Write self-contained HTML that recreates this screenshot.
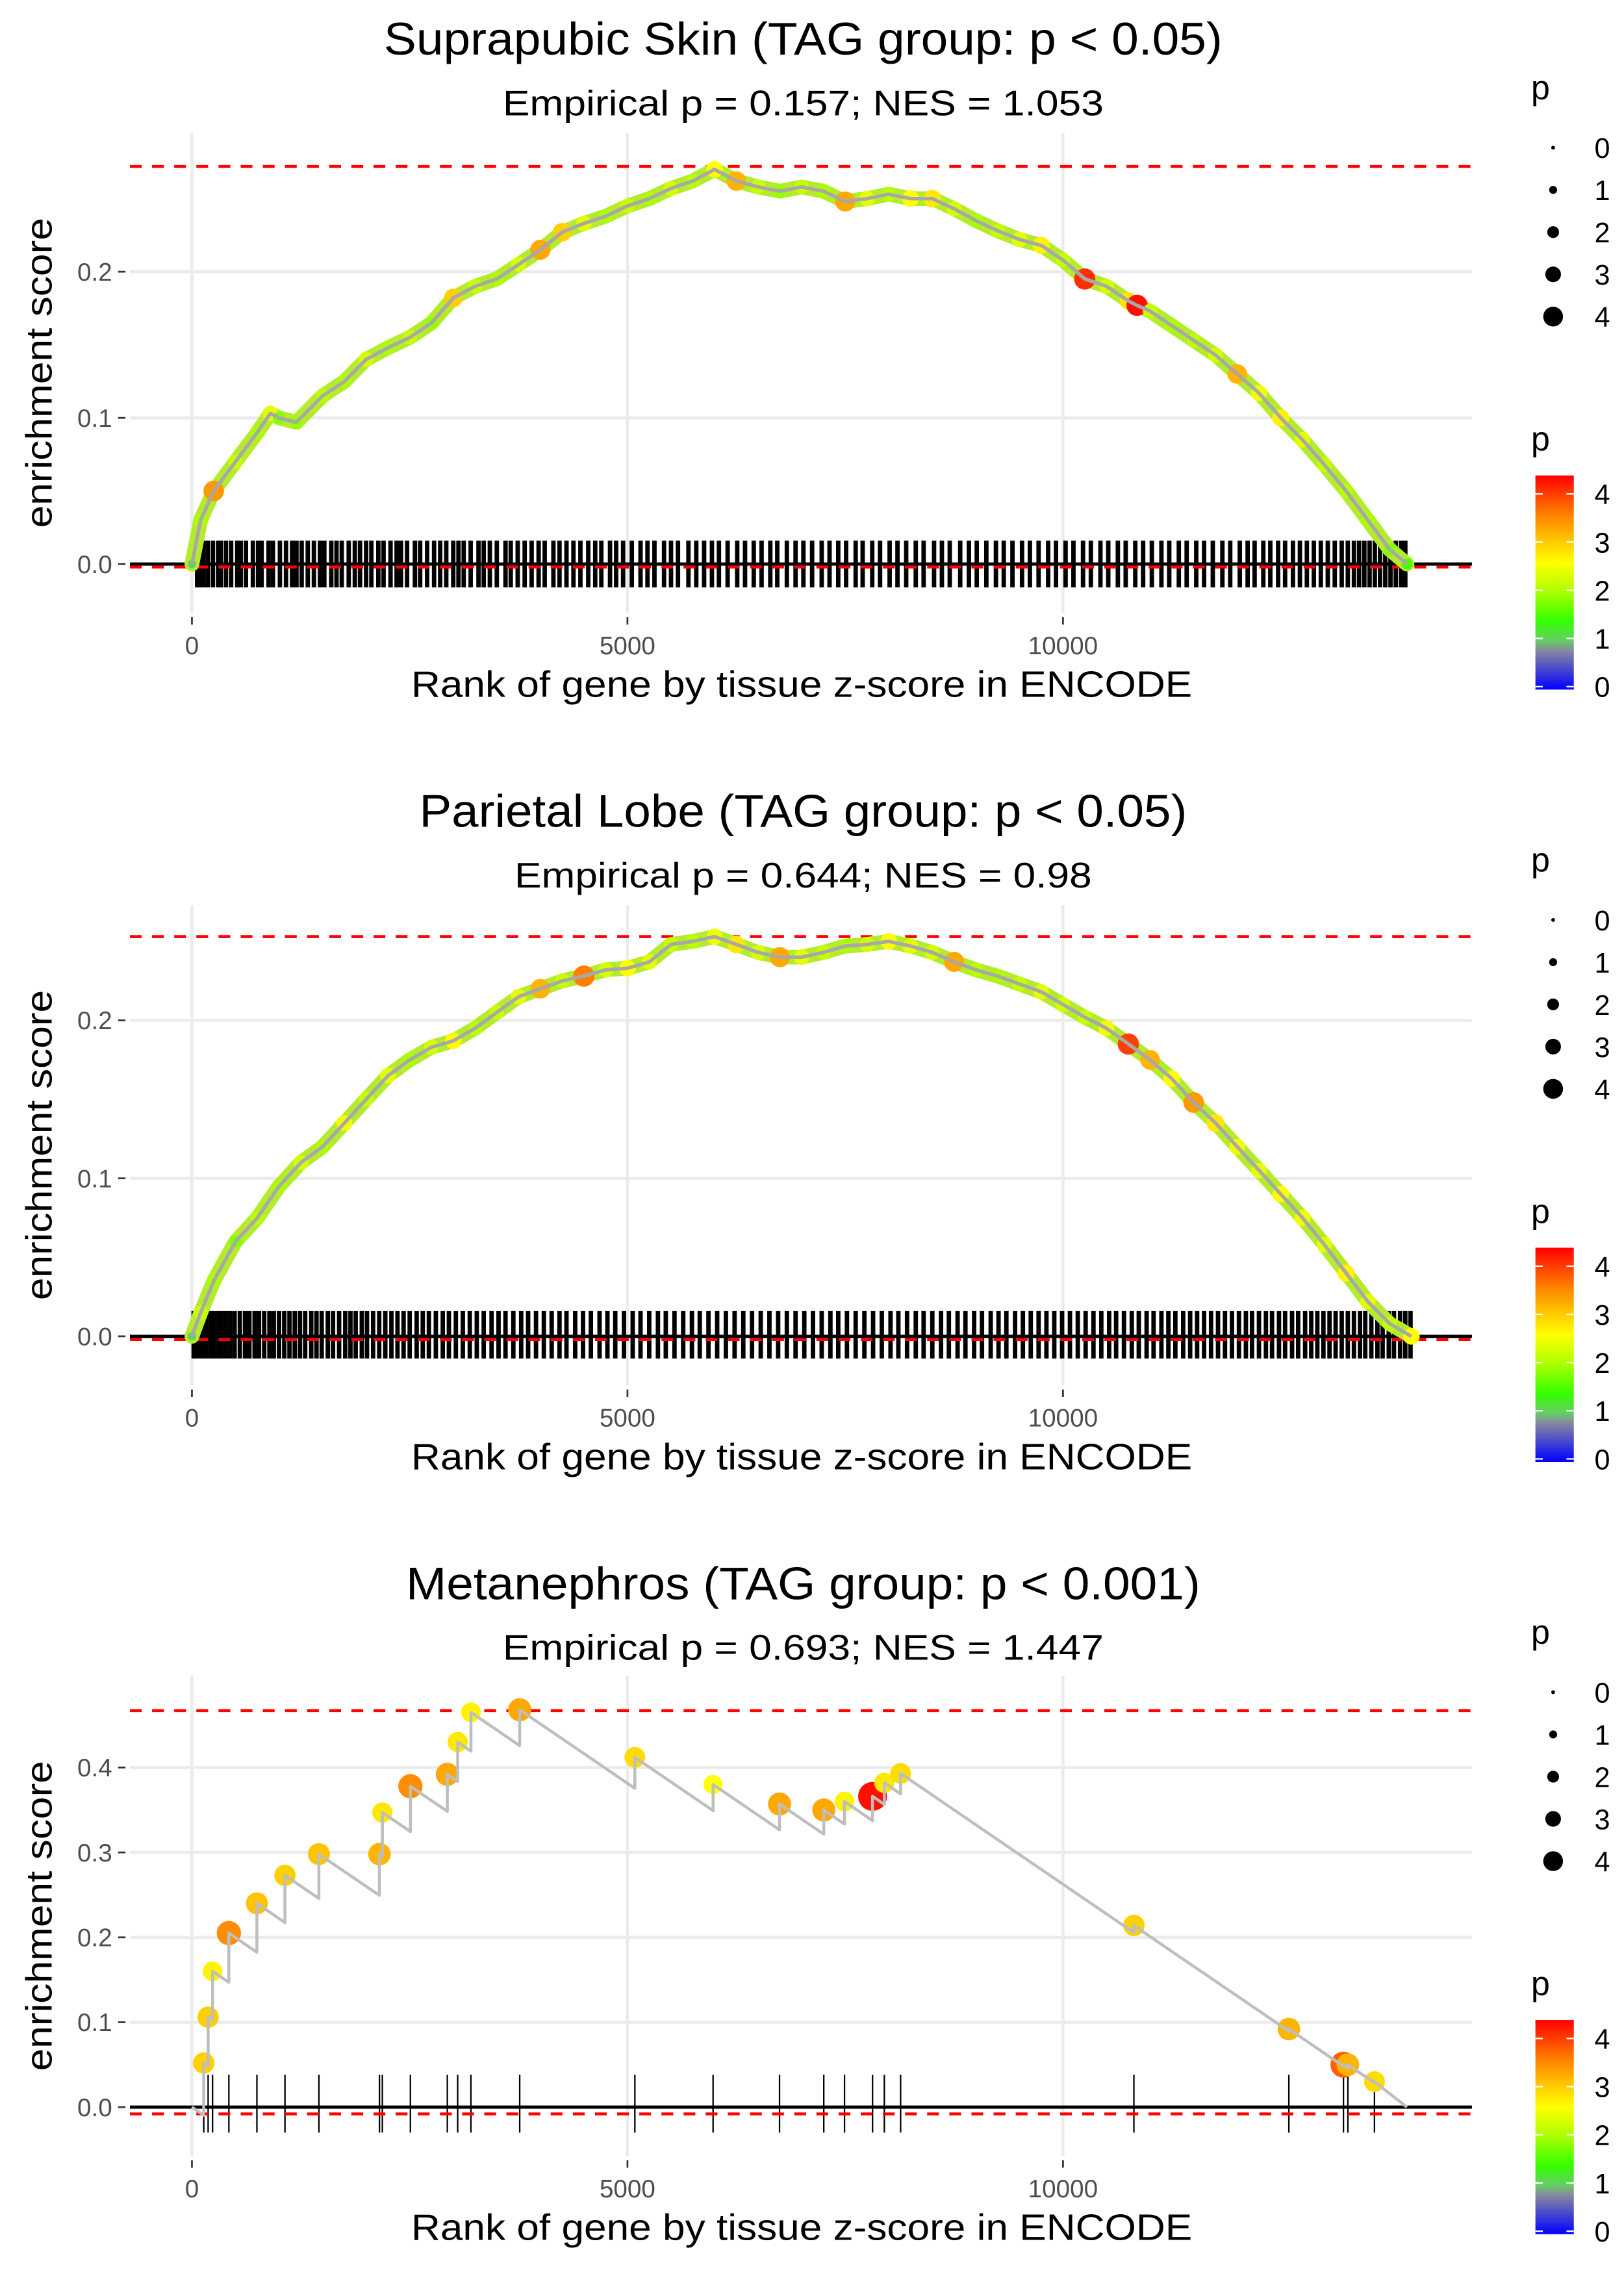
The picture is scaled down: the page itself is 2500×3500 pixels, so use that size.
<!DOCTYPE html>
<html><head><meta charset="utf-8"><style>
html,body{margin:0;padding:0;background:#fff;}
svg{display:block;font-family:"Liberation Sans",Arial,sans-serif;}
</style></head><body>
<svg id="chart" width="2500" height="3500" viewBox="0 0 1100 1540" preserveAspectRatio="none" xmlns="http://www.w3.org/2000/svg"></svg>
<script>
// ---------- data ----------
const p1Ranks = [0,100,250,500,750,900,1000,1200,1500,1750,2000,2250,2500,2750,3000,3250,3500,3750,4000,4250,4500,4750,5000,5250,5500,5750,6000,6250,6500,6750,7000,7250,7500,7750,8000,8250,8500,8750,9000,9250,9500,9750,10000,10250,10500,10750,10850,11000,11250,11500,11750,12000,12250,12500,12750,13000,13250,13500,13750,13950];
const p1ES = [0,0.03,0.05,0.07,0.09,0.103,0.10,0.097,0.115,0.125,0.14,0.148,0.155,0.165,0.182,0.19,0.195,0.205,0.215,0.227,0.233,0.238,0.245,0.25,0.257,0.262,0.27,0.262,0.258,0.255,0.258,0.255,0.248,0.25,0.253,0.25,0.25,0.243,0.235,0.228,0.222,0.218,0.208,0.195,0.19,0.18,0.177,0.173,0.163,0.153,0.143,0.13,0.117,0.1,0.085,0.068,0.05,0.03,0.01,0];
const p1P = [1,2,3.4,2.2,2,2.4,1.8,1.9,2.1,2,2.3,2,2.2,1.9,3,2.2,2,2.3,3.3,3,2.4,2,2.2,2,2.3,2.1,2.6,3.2,2.2,1.9,2.2,2,3.3,2.4,2.1,2.6,2.8,2.3,2,2.2,2.4,2.7,2.2,4.1,2.3,2.8,4.3,2.2,2,2.1,2.3,3.2,2.5,2.7,2.4,2.2,2.1,2,1.8,1.5];
const p1Hits = [60,90,130,180,240,300,330,390,450,520,560,620,700,760,800,880,930,1010,1080,1150,1200,1260,1330,1400,1470,1520,1600,1660,1720,1800,1870,1930,2000,2060,2140,2200,2280,2350,2400,2470,2560,2620,2700,2780,2850,2920,3000,3060,3120,3200,3290,3350,3420,3500,3600,3660,3740,3820,3900,3980,4050,4150,4220,4300,4380,4460,4550,4630,4700,4800,4870,4950,5050,5150,5230,5310,5420,5500,5580,5700,5790,5880,5970,6050,6150,6260,6350,6450,6540,6640,6720,6830,6930,7020,7120,7230,7320,7420,7510,7620,7700,7810,7900,8010,8100,8200,8310,8400,8520,8610,8700,8820,8920,9010,9120,9230,9320,9420,9530,9620,9720,9830,9920,10030,10120,10230,10320,10430,10520,10630,10720,10830,10920,11020,11130,11220,11330,11420,11530,11620,11720,11830,11920,12030,12120,12200,12300,12380,12470,12550,12640,12720,12800,12880,12960,13040,13120,13200,13270,13340,13400,13460,13520,13580,13640,13700,13760,13820,13880,13930];

const p2Ranks = [0,100,250,500,750,1000,1250,1500,1750,2000,2250,2500,2750,3000,3250,3500,3750,4000,4250,4500,4750,5000,5250,5500,5750,6000,6250,6500,6750,7000,7250,7500,7750,8000,8250,8500,8750,9000,9250,9500,9750,10000,10250,10500,10750,11000,11250,11500,11750,12000,12250,12500,12750,13000,13250,13500,13750,14000];
const p2ES = [0,0.015,0.035,0.06,0.075,0.095,0.11,0.12,0.135,0.15,0.165,0.175,0.183,0.187,0.195,0.205,0.215,0.22,0.225,0.228,0.232,0.233,0.237,0.248,0.25,0.253,0.248,0.243,0.24,0.24,0.243,0.247,0.248,0.25,0.247,0.243,0.237,0.232,0.228,0.223,0.218,0.21,0.202,0.195,0.185,0.175,0.163,0.148,0.135,0.12,0.105,0.09,0.075,0.058,0.04,0.022,0.008,0];
const p2P = [1,2.2,2,1.8,2.1,2,2.3,2,2.5,2.2,2.4,2,2.3,2.6,2.1,2.2,2.4,3.2,2.2,3.6,2.3,2.6,2.4,2.2,2.1,2.5,2.8,2.3,3.3,2.4,2.2,2,2.3,2.6,2.4,2.3,3.3,2.1,2,2.2,2.4,2.3,2.2,2.5,4,3.2,2.6,3.4,2.8,2.5,2.4,2.6,2.5,2.4,2.7,2.4,2.2,2.6];
const p2Hits = [20,50,80,120,160,210,250,300,340,390,440,490,550,610,660,720,770,830,890,940,1000,1060,1120,1180,1240,1300,1370,1430,1490,1560,1620,1690,1760,1820,1880,1950,2010,2080,2150,2220,2290,2360,2430,2500,2580,2650,2720,2800,2880,2950,3030,3110,3190,3270,3350,3440,3520,3600,3690,3780,3860,3950,4040,4130,4220,4300,4400,4490,4580,4680,4770,4860,4960,5060,5150,5250,5350,5440,5540,5640,5740,5830,5930,6030,6130,6230,6330,6430,6530,6630,6730,6830,6930,7030,7130,7230,7330,7420,7520,7620,7720,7820,7920,8020,8110,8210,8310,8400,8500,8600,8690,8790,8880,8980,9070,9170,9260,9350,9450,9540,9630,9720,9810,9900,9990,10080,10170,10260,10350,10440,10530,10610,10700,10790,10870,10960,11040,11130,11210,11290,11380,11460,11540,11620,11700,11780,11860,11940,12020,12100,12170,12250,12330,12400,12480,12550,12630,12700,12780,12850,12920,12990,13060,13130,13200,13270,13340,13410,13470,13540,13610,13670,13740,13800,13870,13930,13990];

const p3Ranks = [136,186,237,424,746,1068,1458,2153,2186,2508,2932,3051,3203,3763,5085,5983,6746,7254,7492,7814,7949,8136,10814,12593,13220,13271,13576];
const p3ES = [0.052,0.106,0.16,0.205,0.24,0.273,0.298,0.298,0.347,0.378,0.392,0.43,0.465,0.468,0.412,0.38,0.357,0.35,0.36,0.366,0.382,0.393,0.214,0.092,0.05,0.05,0.03];
const p3P = [3,3,2.7,3.5,3.1,3,3.1,3.2,2.8,3.5,3.3,2.8,2.7,3.3,2.9,2.6,3.3,3.3,2.7,4.3,2.8,2.9,3,3.2,3.8,3.2,2.9];
const p3MissStep = 0.00007;
const p3End = 13950;

const titles = ["Suprapubic Skin (TAG group: p < 0.05)","Parietal Lobe (TAG group: p < 0.05)","Metanephros (TAG group: p < 0.001)"];
const subtitles = ["Empirical p = 0.157; NES = 1.053","Empirical p = 0.644; NES = 0.98","Empirical p = 0.693; NES = 1.447"];
const titleWidths = [568,520,538];
const subtitleWidths = [407,391,407];
const xTicks = [0,5000,10000];
const yTicks1 = [0,0.1,0.2];
const yTicks2 = [0,0.1,0.2];
const yTicks3 = [0,0.1,0.2,0.3,0.4];
const sizeLegend = [0,1,2,3,4];
const colorLegend = [0,1,2,3,4];

// ---------- helpers ----------
const NS="http://www.w3.org/2000/svg";
const svg=document.getElementById('chart');
function mk(tag,attrs,parent){const e=document.createElementNS(NS,tag);for(const k in attrs)e.setAttribute(k,attrs[k]);(parent||svg).appendChild(e);return e;}
const stops=[[0,[0,0,255]],[0.8,[136,136,160]],[1.0,[102,204,102]],[1.4,[51,255,0]],[2.0,[170,255,0]],[2.6,[255,255,0]],[3.0,[255,208,0]],[3.6,[255,128,0]],[4.4,[255,0,0]]];
function col(p){if(p<=0)return 'rgb(0,0,255)';for(let i=1;i<stops.length;i++){if(p<=stops[i][0]){const a=stops[i-1],b=stops[i];const t=(p-a[0])/(b[0]-a[0]);const c=a[1].map((v,j)=>Math.round(v+(b[1][j]-v)*t));return `rgb(${c})`;}}return 'rgb(255,0,0)';}
function rad(p){return 1.2+1.7*p;}
const X0=130, XK=0.059;
function xs(r){return X0+r*XK;}

const panels=[
 {off:0,y0:382,k:990,ticks:yTicks1,redTop:0.272,redBot:-0.002,top:90,bot:415,rugTop:0.016,rugBot:-0.016},
 {off:523,y0:905,k:1070,ticks:yTicks2,redTop:0.253,redBot:-0.002,top:613,bot:938,rugTop:0.016,rugBot:-0.014},
 {off:1046,y0:1427,k:575,ticks:yTicks3,redTop:0.467,redBot:-0.008,top:1135,bot:1460,rugTop:0.038,rugBot:-0.03}
];

panels.forEach((P,pi)=>{
 const g=mk('g',{});
 
 
 const ys=v=>P.y0-v*P.k;
 let t=mk('text',{x:544,y:P.off+37,'text-anchor':'middle','font-size':31,fill:'#000',textLength:titleWidths[pi],lengthAdjust:'spacingAndGlyphs'},g);t.textContent=titles[pi];
 
 t=mk('text',{x:544,y:P.off+78,'text-anchor':'middle','font-size':24,fill:'#000',textLength:subtitleWidths[pi],lengthAdjust:'spacingAndGlyphs'},g);t.textContent=subtitles[pi];
 
 // grid
 P.ticks.forEach(v=>{const l=mk('line',{x1:88,x2:997,y1:ys(v),y2:ys(v),stroke:'#ebebeb','stroke-width':2},g);
  
  const tl=mk('text',{x:76,y:ys(v)+6,'text-anchor':'end','font-size':17,fill:'#4d4d4d'},g);tl.textContent=v.toFixed(1);
  
  mk('line',{x1:80,x2:85,y1:ys(v),y2:ys(v),stroke:'#333','stroke-width':1.2},g);});
 xTicks.forEach(v=>{const l=mk('line',{x1:xs(v),x2:xs(v),y1:P.top,y2:P.bot,stroke:'#ebebeb','stroke-width':2},g);
  
  mk('line',{x1:xs(v),x2:xs(v),y1:P.bot+3,y2:P.bot+8,stroke:'#333','stroke-width':1.2},g);
  const tl=mk('text',{x:xs(v),y:P.bot+28,'text-anchor':'middle','font-size':17,fill:'#4d4d4d'},g);tl.textContent=String(v);
  });
 t=mk('text',{x:543,y:P.bot+57,'text-anchor':'middle','font-size':25,fill:'#000',textLength:529,lengthAdjust:'spacingAndGlyphs'},g);t.textContent='Rank of gene by tissue z-score in ENCODE';
 
 const yc=(P.top+P.bot)/2;
 t=mk('text',{x:0,y:0,transform:`translate(35,${yc}) rotate(-90)`,'text-anchor':'middle','font-size':25,fill:'#000',textLength:210,lengthAdjust:'spacingAndGlyphs'},g);t.textContent='enrichment score';
 

 // data
 let ranks,es,ps,hits;
 if(pi===0){ranks=p1Ranks;es=p1ES;ps=p1P;hits=p1Hits;}
 else if(pi===1){ranks=p2Ranks;es=p2ES;ps=p2P;hits=p2Hits;}
 else {ranks=p3Ranks;es=p3ES;ps=p3P;hits=p3Ranks;}
 // rug
 hits.forEach(r=>{const l=mk('line',{x1:xs(r),x2:xs(r),y1:ys(P.rugTop),y2:ys(P.rugBot),stroke:'#000','stroke-width':pi===2?1:3},g);
  });
 // zero line & red lines
 let l=mk('line',{x1:88,x2:997,y1:ys(0),y2:ys(0),stroke:'#000','stroke-width':2.2},g);
 
 [P.redTop,P.redBot].forEach(v=>{const r=mk('line',{x1:88,x2:997,y1:ys(v),y2:ys(v),stroke:'#ff0000','stroke-width':2,'stroke-dasharray':'8,7'},g);
  });

 if(pi<2){
  const d=ranks.map((r,i)=>(i?'L':'M')+xs(r).toFixed(1)+','+ys(es[i]).toFixed(1)).join(' ');
  const band=mk('path',{d:d,fill:'none',stroke:'#b4ec2c','stroke-width':10,'stroke-linejoin':'round','stroke-linecap':'round'},g);
  
  ranks.forEach((r,i)=>{const c=mk('circle',{cx:xs(r),cy:ys(es[i]),r:Math.min(rad(ps[i]),7.2),fill:col(ps[i])},g);
   });
  const ln=mk('path',{d:d,fill:'none',stroke:'#a8a8a8','stroke-width':2.4,'stroke-linejoin':'round'},g);
  
 } else {
  ranks.forEach((r,i)=>{const c=mk('circle',{cx:xs(r),cy:ys(es[i]),r:rad(ps[i])*1.15,fill:col(ps[i])},g);
   });
  let d='M'+xs(0)+','+ys(0);let prevR=0,prevE=0;
  ranks.forEach((r,i)=>{const dip=prevE-p3MissStep*(r-prevR);d+=` L${xs(r).toFixed(1)},${ys(dip).toFixed(1)} L${xs(r).toFixed(1)},${ys(es[i]).toFixed(1)}`;prevR=r;prevE=es[i];});
  d+=` L${xs(p3End).toFixed(1)},${ys(0).toFixed(1)}`;
  const ln=mk('path',{d:d,fill:'none',stroke:'#bebebe','stroke-width':2,'stroke-linejoin':'round'},g);
  
 }

 // legends
 const lg=mk('g',{},g);
 
 t=mk('text',{x:1037,y:P.off+67,'font-size':23,fill:'#000'},lg);t.textContent='p';
 sizeLegend.forEach((v,i)=>{const cy=P.off+100+i*28.6;
  mk('circle',{cx:1052,cy:cy,r:[1.3,2.7,4,5.3,6.7][i],fill:'#000'},lg);
  const tt=mk('text',{x:1080,y:cy+7,'font-size':19,fill:'#000'},lg);tt.textContent=String(v);
  });
 const cg=mk('g',{},g);
 
 t=mk('text',{x:1037,y:P.off+305,'font-size':23,fill:'#000'},cg);t.textContent='p';
 const gid='grad'+pi;
 const defs=mk('defs',{},cg);const lgd=mk('linearGradient',{id:gid,x1:0,y1:1,x2:0,y2:0},defs);
 stops.forEach(s=>mk('stop',{offset:(s[0]/4.4),'stop-color':`rgb(${s[1]})`},lgd));
 const bTop=P.off+322,bBot=P.off+467,per=(bBot-bTop)/4.4;
 mk('rect',{x:1040,y:bTop,width:26,height:bBot-bTop,fill:`url(#${gid})`},cg);
 colorLegend.forEach(v=>{const yy=bBot-2-v*per*0.99;
  mk('line',{x1:1040,x2:1045,y1:yy,y2:yy,stroke:'#fff','stroke-width':1},cg);
  mk('line',{x1:1061,x2:1066,y1:yy,y2:yy,stroke:'#fff','stroke-width':1},cg);
  const tt=mk('text',{x:1080,y:yy+7,'font-size':19,fill:'#000'},cg);tt.textContent=String(v);
  });
});
</script>
</body></html>
